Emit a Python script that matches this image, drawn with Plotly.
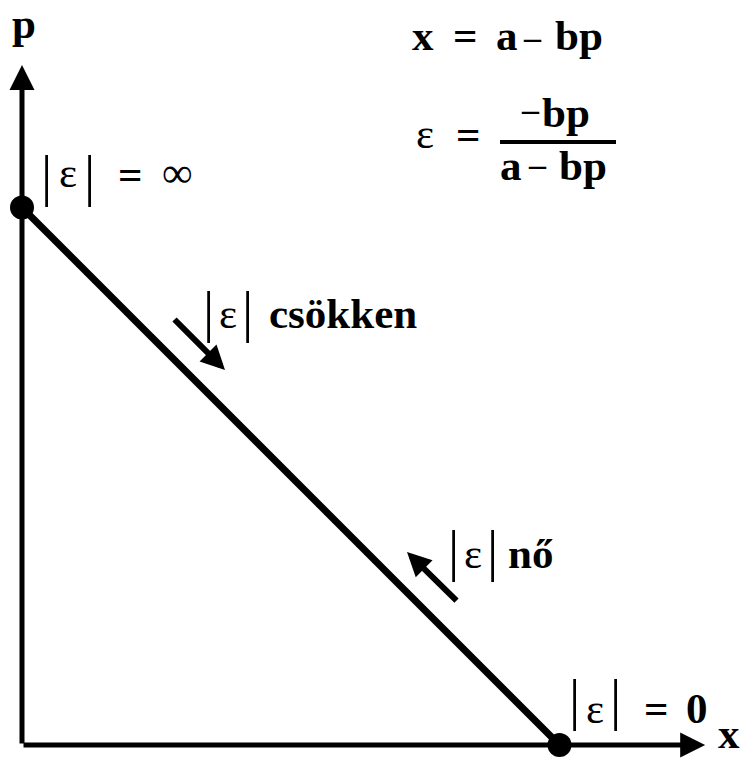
import plotly.graph_objects as go

# Demand line x = a - b p  (a = 10, b = 1): end points on the axes
quantity = [0, 10]
price = [10, 0]

# axis arrow lengths (data units)
x_axis_end = 12.71
p_axis_end = 12.65

# text pieces
axis_labels = ["p", "x"]
eq_demand = ["x", "=", "a", "bp"]
eq_num = ["bp"]
eq_den = ["a", "bp"]
DASH = "–"
lab_words = ["csökken", "nő"]
INF, ZERO, EPS = "∞", "0", "ε"

SERIF = "Liberation Serif"
FS = 43          # main font size (px)
BAR_FS = 56      # size of the |  | bars
DASH_FS = 34     # the minus signs are narrower than an en dash at full size

S = 53.75        # pixels per data unit (same on both axes)
def X(px):
    return (px - 22) / S
def Y(py):
    return (745 - py) / S

fig = go.Figure()
fig.add_trace(go.Scatter(
    x=quantity, y=price, mode="lines+markers",
    line=dict(color="black", width=7),
    marker=dict(color="black", size=24),
    hoverinfo="skip", showlegend=False, cliponaxis=False,
))

ann = []
def arrow(x0, y0, x1, y1, width, size):
    ann.append(dict(x=x1, y=y1, ax=x0, ay=y0, xref="x", yref="y", axref="x", ayref="y",
                    text="", showarrow=True, arrowhead=2, arrowsize=size,
                    arrowwidth=width, arrowcolor="black"))

# axes
arrow(0, 0, x_axis_end, 0, 5, 1)
arrow(0, 0, 0, p_axis_end, 5, 1)
# direction arrows along the demand line
arrow(X(173), Y(318), X(225), Y(370), 6, 0.8)
arrow(X(458), Y(602), X(407), Y(552), 6, 0.8)

def piece(t, cx, base, bold=True, size=FS):
    # centre of the text box sits ~0.3375 em above the baseline for Liberation Serif
    cy = base - 0.3375 * size
    ann.append(dict(text=("<b>%s</b>" % t) if bold else t, x=X(cx), y=Y(cy),
                    xref="x", yref="y", xanchor="center", yanchor="middle",
                    showarrow=False, font=dict(family=SERIF, size=size, color="black")))

def dash(cx, center):
    # place the dash by the centre of its ink
    piece(DASH, cx, center + 0.25 * DASH_FS, size=DASH_FS)

def bar(cx, center):
    ann.append(dict(text="|", x=X(cx), y=Y(center - 3), xref="x", yref="y",
                    xanchor="center", yanchor="middle", showarrow=False,
                    font=dict(family=SERIF, size=BAR_FS, color="black")))

def abs_eps(left, right, center, base):
    bar(left, center)
    piece(EPS, (left + right) / 2, base, bold=False)
    bar(right, center)

# axis labels
piece(axis_labels[0], 24, 38.5)
piece(axis_labels[1], 729, 748)

# x = a - bp
for t, cx in zip(eq_demand, [423, 465.5, 506.5, 578.5]):
    piece(t, cx, 50)
dash(532.5, 40)

# elasticity formula
piece(EPS, 425, 148, bold=False)
piece("=", 468.5, 149)
dash(530.5, 112)
piece(eq_num[0], 566, 127)
piece(eq_den[0], 511, 180)
dash(537.5, 167)
piece(eq_den[1], 582.5, 180)

# |e| = inf
abs_eps(46, 89, 178.5, 187)
piece("=", 130, 189)
piece(INF, 177, 187, bold=False)

# |e| csokken
abs_eps(208, 247, 315, 328)
piece(lab_words[0], 343, 328)

# |e| no
abs_eps(453, 492, 553.5, 568)
piece(lab_words[1], 530.5, 568)

# |e| = 0
abs_eps(574, 615, 703, 723)
piece("=", 656.5, 723)
piece(ZERO, 696.5, 723)

fig.update_layout(
    width=743, height=758,
    margin=dict(l=0, r=0, t=0, b=0),
    paper_bgcolor="white", plot_bgcolor="white",
    xaxis=dict(range=[X(0), X(743)], visible=False, fixedrange=True),
    yaxis=dict(range=[Y(758), Y(0)], visible=False, fixedrange=True),
    annotations=ann,
    shapes=[dict(type="line", xref="x", yref="y", x0=X(500), x1=X(616), y0=Y(142), y1=Y(142),
                 line=dict(color="black", width=4))],
)

fig.write_html("out.html", config={"displayModeBar": False},
               post_script="document.body.style.margin='0';")
